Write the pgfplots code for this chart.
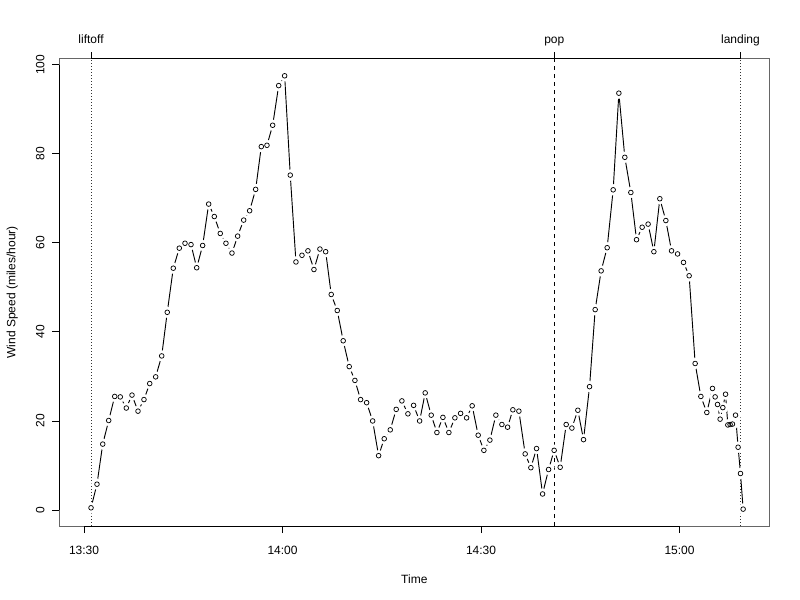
\documentclass[border=0pt]{standalone}
\usepackage{fontspec}
\setmainfont{Liberation Sans}
\usepackage{pgfplots}
\usepackage{pgfplotstable}
\pgfplotsset{compat=1.18}
\pgfplotstableread{
t v
1.06 0.5
1.96 5.8
2.83 14.8
3.73 20.1
4.64 25.5
5.48 25.4
6.39 22.9
7.25 25.8
8.16 22.2
9.06 24.8
9.93 28.4
10.83 29.9
11.74 34.6
12.58 44.4
13.49 54.3
14.40 58.8
15.26 59.9
16.17 59.6
17.03 54.4
17.93 59.4
18.84 68.7
19.69 65.9
20.59 62.1
21.45 59.9
22.36 57.7
23.22 61.5
24.13 65.1
25.03 67.2
25.94 72.0
26.79 81.6
27.65 81.9
28.51 86.4
29.42 95.3
30.32 97.5
31.17 75.2
32.03 55.7
32.94 57.2
33.84 58.2
34.75 54.0
35.65 58.6
36.52 58.0
37.36 48.4
38.27 44.8
39.17 38.0
40.08 32.2
40.94 29.1
41.80 24.8
42.71 24.1
43.62 20.0
44.52 12.2
45.37 16.0
46.28 18.0
47.18 22.6
48.04 24.5
48.95 21.6
49.81 23.5
50.72 20.0
51.56 26.3
52.47 21.3
53.33 17.4
54.24 20.8
55.14 17.4
56.05 20.7
56.91 21.7
57.82 20.7
58.66 23.4
59.57 16.8
60.43 13.4
61.34 15.7
62.24 21.3
63.15 19.2
64.01 18.6
64.81 22.5
65.72 22.2
66.67 12.6
67.53 9.5
68.39 13.8
69.30 3.6
70.21 9.1
71.05 13.4
71.96 9.6
72.87 19.2
73.73 18.4
74.63 22.4
75.49 15.8
76.40 27.7
77.25 45.0
78.15 53.7
79.06 58.9
79.97 71.9
80.83 93.6
81.73 79.2
82.64 71.3
83.50 60.7
84.35 63.5
85.25 64.2
86.12 58.0
87.02 69.9
87.93 65.0
88.79 58.2
89.70 57.5
90.60 55.6
91.45 52.6
92.36 32.9
93.22 25.5
94.12 21.9
94.98 27.3
95.38 25.4
95.74 23.7
96.13 20.4
96.54 23.0
96.95 26.0
97.30 19.1
97.64 19.2
98.00 19.3
98.46 21.3
98.85 14.1
99.21 8.2
99.61 0.2
}\wind
\newcommand{\lab}{\fontsize{9pt}{10.8pt}\selectfont}
\begin{document}
\begin{tikzpicture}
\begin{axis}[
  at={(0,0)}, anchor=south west,
  scale only axis, width=532.5pt, height=350.5pt,
  xmin=-3.73, xmax=103.57, ymin=-3.59, ymax=101.35,
  clip=false,
  axis line style={black!60, line width=0.6pt},
  xtick={0,30,60,90}, xticklabels={13:30,14:00,14:30,15:00},
  ytick={0,20,40,60,80,100},
  tick align=outside, tick pos=left,
  major tick length=5.25pt,
  tick style={black, line width=0.6pt},
  /pgf/number format/assume math mode=true,
  tick label style={font=\lab},
  label style={font=\lab},
  xticklabel style={anchor=base, inner sep=0pt, yshift=-15.95pt},
  yticklabel style={rotate=90, anchor=base, inner sep=0pt, yshift=6pt},
  xlabel={Time}, ylabel={Wind Speed (miles/hour)},
  xlabel style={at={(axis description cs:0.5,0)}, anchor=base, inner sep=0pt, yshift=-43pt},
  ylabel style={at={(axis description cs:0,0.5)}, anchor=base, inner sep=0pt, yshift=33pt},
]
\addplot[black, line width=0.7pt, no markers] table[x=t, y=v] {\wind};
\addplot[only marks, mark=*, mark size=4.2pt, mark options={draw=white, fill=white, line width=0.1pt}] table[x=t, y=v] {\wind};
\addplot[only marks, mark=o, mark size=1.75pt, mark options={draw=black, fill=white, line width=0.55pt}] table[x=t, y=v] {\wind};
% axis lines (darker segments)
\draw[black, line width=0.7pt] (axis cs:-3.73,0) -- (axis cs:-3.73,100);
\draw[black, line width=0.7pt] (axis cs:0,-3.59) -- (axis cs:90,-3.59);
\draw[black, line width=0.7pt] (axis cs:1.06,101.35) -- (axis cs:99.21,101.35);
% event lines
\draw[black!80, line width=0.6pt, dash pattern=on 0.75pt off 1.5pt] (axis cs:1.06,-3.59) -- (axis cs:1.06,101.35);
\draw[black, line width=0.6pt, dash pattern=on 3pt off 3pt] (axis cs:71.07,-3.59) -- (axis cs:71.07,101.35);
\draw[black!80, line width=0.6pt, dash pattern=on 0.75pt off 1.5pt] (axis cs:99.21,-3.59) -- (axis cs:99.21,101.35);
\draw[black, line width=0.6pt] (axis cs:1.06,101.35) -- ([yshift=5.25pt]axis cs:1.06,101.35);
\draw[black, line width=0.6pt] (axis cs:71.07,101.35) -- ([yshift=5.25pt]axis cs:71.07,101.35);
\draw[black, line width=0.6pt] (axis cs:99.21,101.35) -- ([yshift=5.25pt]axis cs:99.21,101.35);
\node[anchor=base, inner sep=0pt, font=\lab] at ([yshift=11.4pt]axis cs:1.06,101.35) {liftoff};
\node[anchor=base, inner sep=0pt, font=\lab] at ([yshift=11.4pt]axis cs:71.07,101.35) {pop};
\node[anchor=base, inner sep=0pt, font=\lab] at ([yshift=11.4pt]axis cs:99.21,101.35) {landing};
\end{axis}
\path (-44.5pt,-55.5pt) rectangle (555.5pt,394.5pt);
\end{tikzpicture}
\end{document}
